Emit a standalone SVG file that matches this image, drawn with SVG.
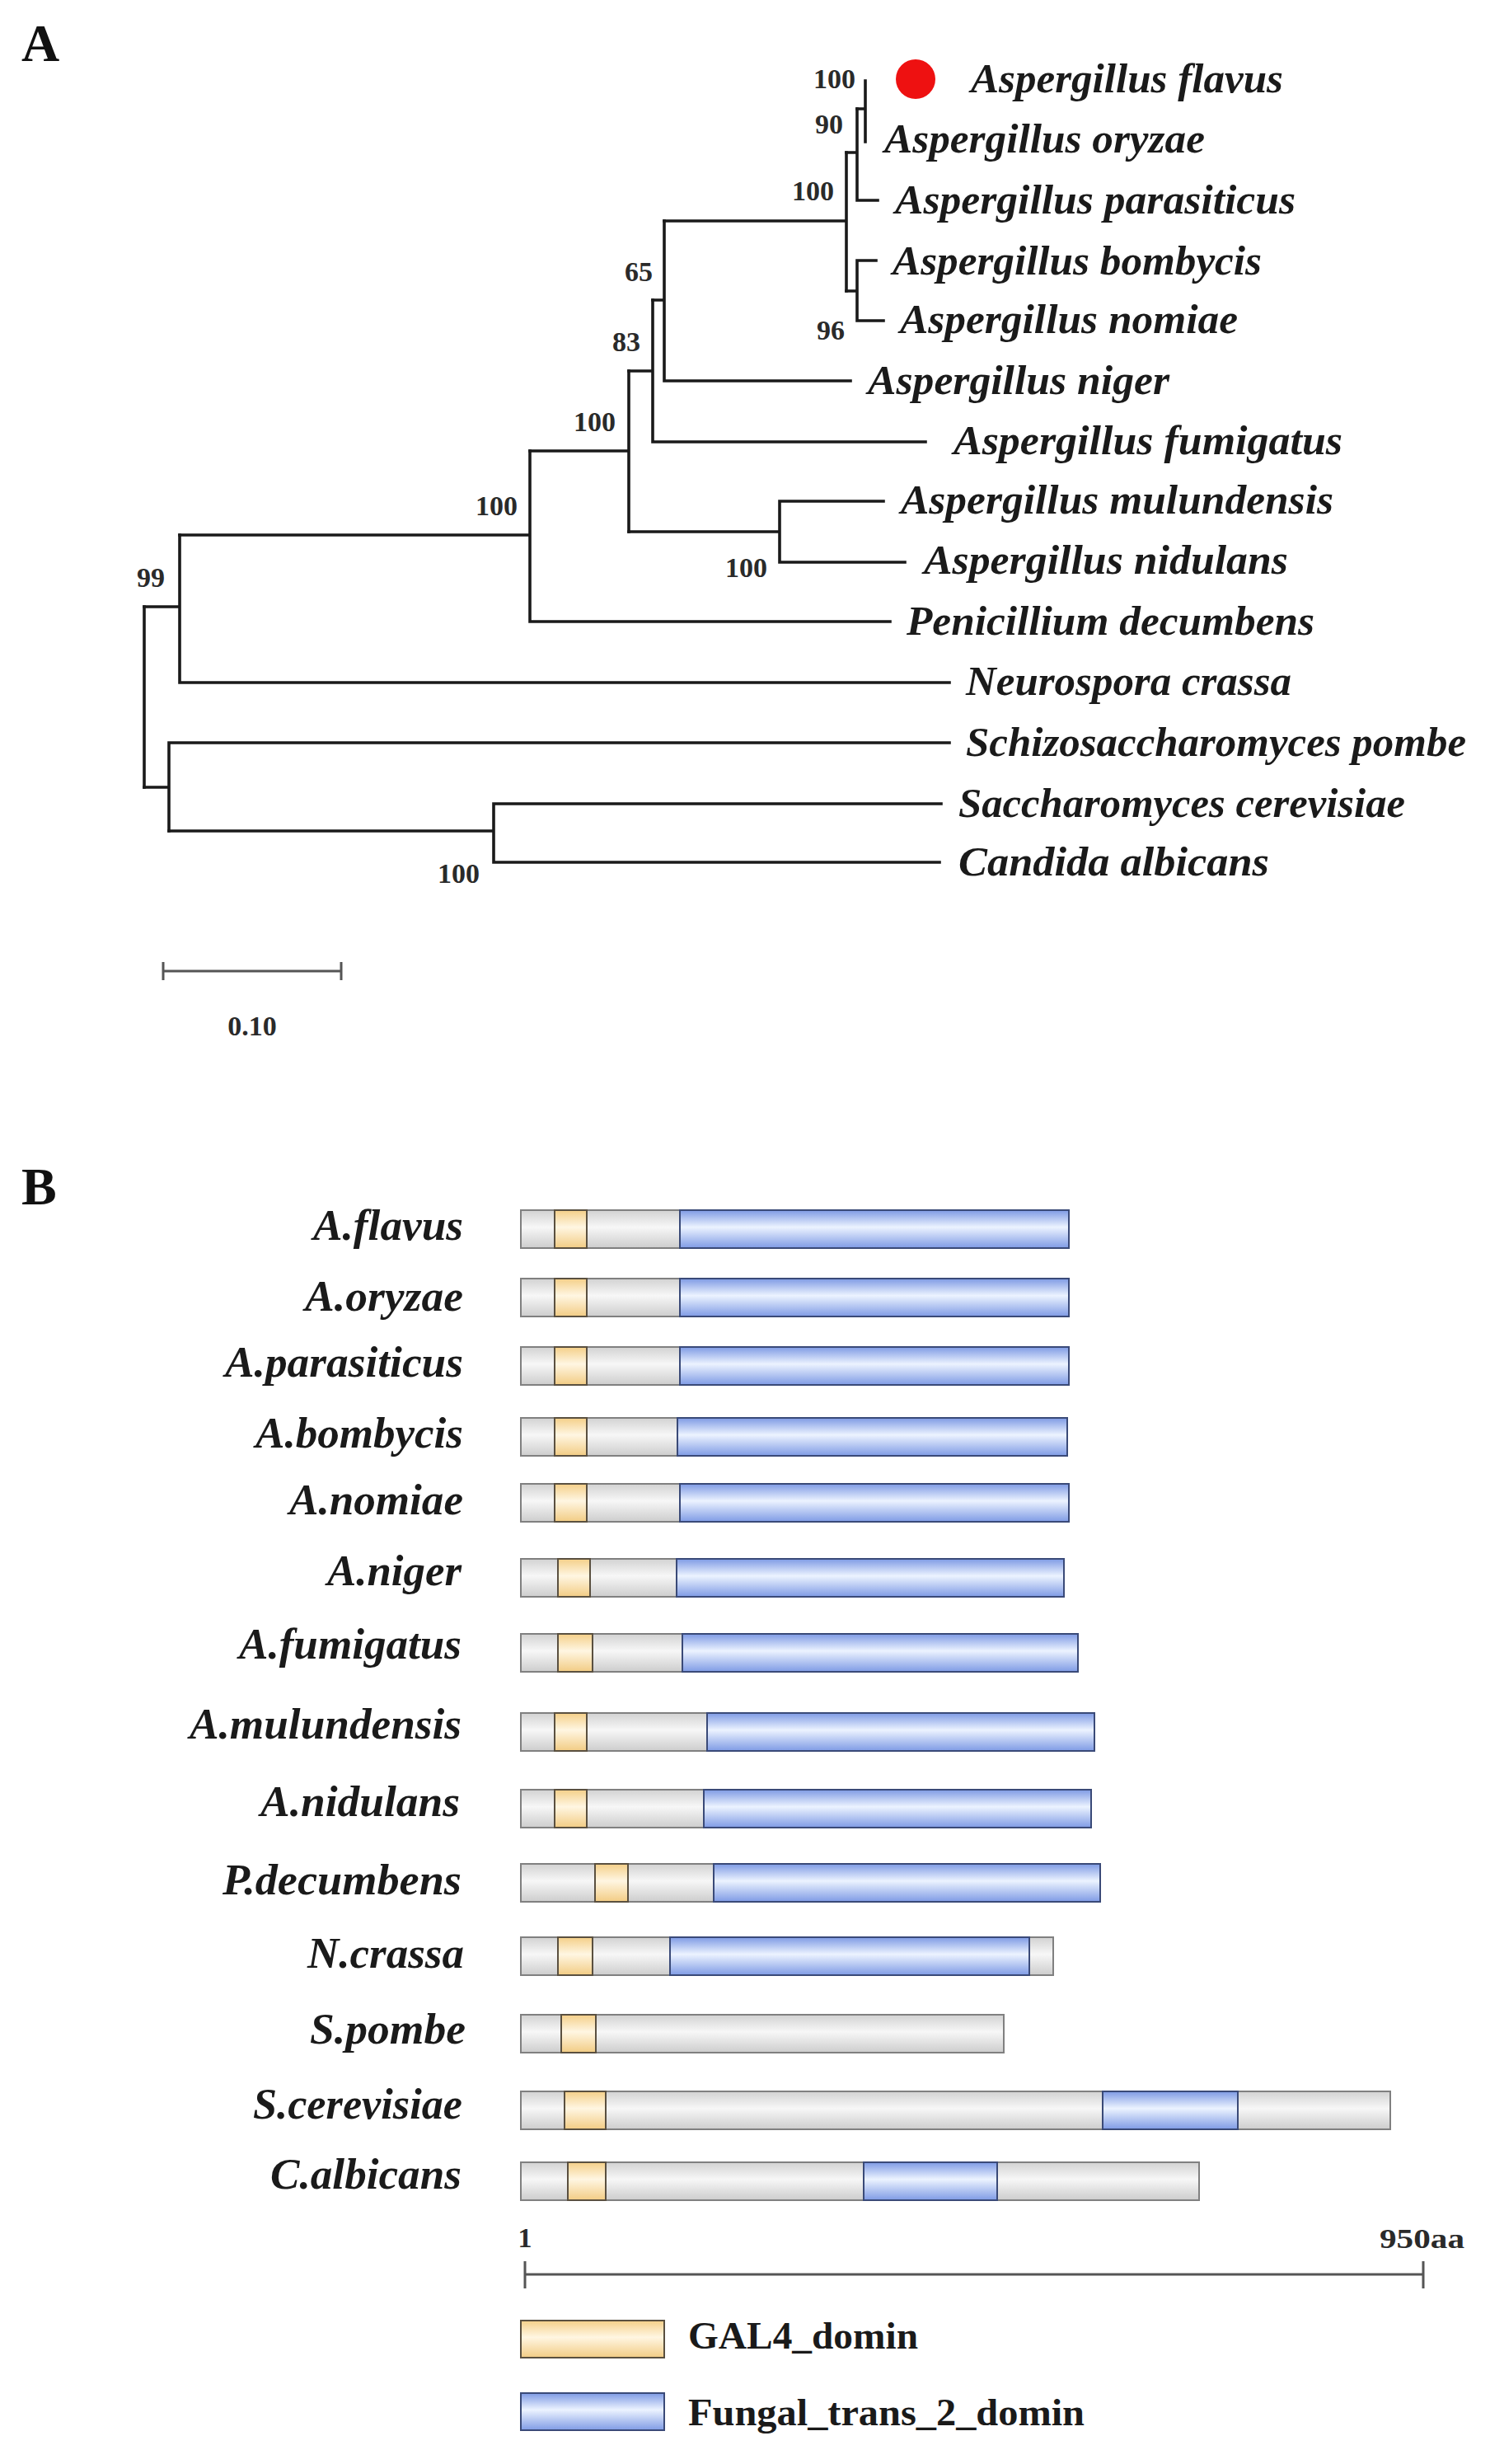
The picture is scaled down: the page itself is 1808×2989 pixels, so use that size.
<svg xmlns="http://www.w3.org/2000/svg" width="1808" height="2989" viewBox="0 0 1808 2989">
<style>
.panel{font-family:"Liberation Serif",serif;font-weight:bold;font-size:64px;fill:#111}
.sp{font-family:"Liberation Serif",serif;font-weight:bold;font-style:italic;font-size:50px;fill:#1a1a1a}
.lb{font-family:"Liberation Serif",serif;font-weight:bold;font-style:italic;font-size:52px;fill:#1a1a1a;text-anchor:end}
.bs{font-family:"Liberation Serif",serif;font-weight:bold;font-size:34px;fill:#2a2a2a}
.lg{font-family:"Liberation Serif",serif;font-weight:bold;font-size:46px;fill:#1a1a1a}
.br{fill:none;stroke:#1a1a1a;stroke-width:3.6;stroke-linecap:square}
.sc{fill:none;stroke:#555;stroke-width:3}
.bar{fill:url(#gGray);stroke:#808080;stroke-width:2}
.gal{fill:url(#gGal);stroke:#5a5040;stroke-width:2}
.fun{fill:url(#gBlue);stroke:#3a4a78;stroke-width:2}
</style>
<defs>
<linearGradient id="gGray" x1="0" y1="0" x2="0" y2="1">
<stop offset="0" stop-color="#d2d2d2"/><stop offset="0.45" stop-color="#f7f7f7"/><stop offset="1" stop-color="#cdcdcd"/>
</linearGradient>
<linearGradient id="gGal" x1="0" y1="0" x2="0" y2="1">
<stop offset="0" stop-color="#f4cf88"/><stop offset="0.45" stop-color="#fff6e2"/><stop offset="1" stop-color="#f2cc84"/>
</linearGradient>
<linearGradient id="gBlue" x1="0" y1="0" x2="0" y2="1">
<stop offset="0" stop-color="#7e9ae4"/><stop offset="0.45" stop-color="#ecf3ff"/><stop offset="1" stop-color="#7f9be5"/>
</linearGradient>
</defs>
<rect width="1808" height="2989" fill="#ffffff"/>

<!-- Panel A -->
<text class="panel" x="26" y="74">A</text>

<g id="connectors">
<path class="br" d="M175,736 V955"/>
<path class="br" d="M175,736 H218 V649 M218,736 V828 H1152"/>
<path class="br" d="M218,649 H643 V547 M643,649 V754 H1080"/>
<path class="br" d="M643,547 H763 V450 M763,547 V645"/>
<path class="br" d="M763,450 H792 V364 M792,450 V536 H1123"/>
<path class="br" d="M792,364 H806 V268 M806,364 V462 H1032"/>
<path class="br" d="M806,268 H1027 V185 M1027,268 V353"/>
<path class="br" d="M1027,185 H1040 V132 M1040,185 V243 H1065"/>
<path class="br" d="M1040,132 H1050 V98 M1050,132 V172"/>
<path class="br" d="M1027,353 H1040 V316 H1063 M1040,353 V389 H1072"/>
<path class="br" d="M763,645 H946 V608 H1072 M946,645 V682 H1098"/>
<path class="br" d="M175,955 H205 V901 H1152 M205,955 V1008"/>
<path class="br" d="M205,1008 H599 V975 H1142 M599,1008 V1046 H1140"/>
</g>

<g id="bootstrap">
<text class="bs" x="987" y="107" font-size="31">100</text>
<text class="bs" x="989" y="162">90</text>
<text class="bs" x="961" y="243">100</text>
<text class="bs" x="991" y="412">96</text>
<text class="bs" x="758" y="341">65</text>
<text class="bs" x="743" y="426">83</text>
<text class="bs" x="696" y="523">100</text>
<text class="bs" x="577" y="625">100</text>
<text class="bs" x="880" y="700">100</text>
<text class="bs" x="166" y="712">99</text>
<text class="bs" x="531" y="1071">100</text>
</g>

<g id="taxa">
<g id="t-flavus"><circle cx="1111" cy="96" r="24" fill="#ee1111"/><text class="sp" x="1178" y="112" textLength="379" lengthAdjust="spacingAndGlyphs">Aspergillus flavus</text></g>
<g id="t-oryzae"><text class="sp" x="1073" y="185" textLength="389" lengthAdjust="spacingAndGlyphs">Aspergillus oryzae</text></g>
<g id="t-parasiticus"><text class="sp" x="1086" y="259" textLength="486" lengthAdjust="spacingAndGlyphs">Aspergillus parasiticus</text></g>
<g id="t-bombycis"><text class="sp" x="1083" y="333" textLength="448" lengthAdjust="spacingAndGlyphs">Aspergillus bombycis</text></g>
<g id="t-nomiae"><text class="sp" x="1092" y="404" textLength="410" lengthAdjust="spacingAndGlyphs">Aspergillus nomiae</text></g>
<g id="t-niger"><text class="sp" x="1053" y="478" textLength="366" lengthAdjust="spacingAndGlyphs">Aspergillus niger</text></g>
<g id="t-fumigatus"><text class="sp" x="1157" y="551" textLength="472" lengthAdjust="spacingAndGlyphs">Aspergillus fumigatus</text></g>
<g id="t-mulundensis"><text class="sp" x="1093" y="623" textLength="525" lengthAdjust="spacingAndGlyphs">Aspergillus mulundensis</text></g>
<g id="t-nidulans"><text class="sp" x="1121" y="696" textLength="442" lengthAdjust="spacingAndGlyphs">Aspergillus nidulans</text></g>
<g id="t-penicillium"><text class="sp" x="1100" y="770" textLength="495" lengthAdjust="spacingAndGlyphs">Penicillium decumbens</text></g>
<g id="t-neurospora"><text class="sp" x="1172" y="843" textLength="395" lengthAdjust="spacingAndGlyphs">Neurospora crassa</text></g>
<g id="t-schizo"><text class="sp" x="1172" y="917" textLength="607" lengthAdjust="spacingAndGlyphs">Schizosaccharomyces pombe</text></g>
<g id="t-sacch"><text class="sp" x="1163" y="991" textLength="542" lengthAdjust="spacingAndGlyphs">Saccharomyces cerevisiae</text></g>
<g id="t-candida"><text class="sp" x="1163" y="1062" textLength="377" lengthAdjust="spacingAndGlyphs">Candida albicans</text></g>
</g>

<g id="scalebar-a">
<path class="sc" d="M198,1178 H414 M198,1167 V1189 M414,1167 V1189"/>
<text class="bs" x="306" y="1256" text-anchor="middle">0.10</text>
</g>

<!-- Panel B -->
<text class="panel" x="26" y="1461">B</text>

<g id="proteins">
<g id="p-flavus"><text class="lb" x="562" y="1504" textLength="182" lengthAdjust="spacingAndGlyphs">A.flavus</text>
<rect class="bar" x="632" y="1468" width="665" height="46"/><rect class="gal" x="673" y="1468" width="39" height="46"/><rect class="fun" x="825" y="1468" width="472" height="46"/></g>
<g id="p-oryzae"><text class="lb" x="562" y="1590" textLength="192" lengthAdjust="spacingAndGlyphs">A.oryzae</text>
<rect class="bar" x="632" y="1551" width="665" height="46"/><rect class="gal" x="673" y="1551" width="39" height="46"/><rect class="fun" x="825" y="1551" width="472" height="46"/></g>
<g id="p-parasiticus"><text class="lb" x="562" y="1670" textLength="289" lengthAdjust="spacingAndGlyphs">A.parasiticus</text>
<rect class="bar" x="632" y="1634" width="665" height="46"/><rect class="gal" x="673" y="1634" width="39" height="46"/><rect class="fun" x="825" y="1634" width="472" height="46"/></g>
<g id="p-bombycis"><text class="lb" x="562" y="1756" textLength="252" lengthAdjust="spacingAndGlyphs">A.bombycis</text>
<rect class="bar" x="632" y="1720" width="663" height="46"/><rect class="gal" x="673" y="1720" width="39" height="46"/><rect class="fun" x="822" y="1720" width="473" height="46"/></g>
<g id="p-nomiae"><text class="lb" x="562" y="1837" textLength="211" lengthAdjust="spacingAndGlyphs">A.nomiae</text>
<rect class="bar" x="632" y="1800" width="665" height="46"/><rect class="gal" x="673" y="1800" width="39" height="46"/><rect class="fun" x="825" y="1800" width="472" height="46"/></g>
<g id="p-niger"><text class="lb" x="560" y="1923" textLength="163" lengthAdjust="spacingAndGlyphs">A.niger</text>
<rect class="bar" x="632" y="1891" width="659" height="46"/><rect class="gal" x="677" y="1891" width="39" height="46"/><rect class="fun" x="821" y="1891" width="470" height="46"/></g>
<g id="p-fumigatus"><text class="lb" x="560" y="2012" textLength="270" lengthAdjust="spacingAndGlyphs">A.fumigatus</text>
<rect class="bar" x="632" y="1982" width="676" height="46"/><rect class="gal" x="677" y="1982" width="42" height="46"/><rect class="fun" x="828" y="1982" width="480" height="46"/></g>
<g id="p-mulundensis"><text class="lb" x="560" y="2109" textLength="330" lengthAdjust="spacingAndGlyphs">A.mulundensis</text>
<rect class="bar" x="632" y="2078" width="696" height="46"/><rect class="gal" x="673" y="2078" width="39" height="46"/><rect class="fun" x="858" y="2078" width="470" height="46"/></g>
<g id="p-nidulans"><text class="lb" x="558" y="2203" textLength="242" lengthAdjust="spacingAndGlyphs">A.nidulans</text>
<rect class="bar" x="632" y="2171" width="692" height="46"/><rect class="gal" x="673" y="2171" width="39" height="46"/><rect class="fun" x="854" y="2171" width="470" height="46"/></g>
<g id="p-decumbens"><text class="lb" x="560" y="2298" textLength="290" lengthAdjust="spacingAndGlyphs">P.decumbens</text>
<rect class="bar" x="632" y="2261" width="703" height="46"/><rect class="gal" x="722" y="2261" width="40" height="46"/><rect class="fun" x="866" y="2261" width="469" height="46"/></g>
<g id="p-crassa"><text class="lb" x="563" y="2387" textLength="190" lengthAdjust="spacingAndGlyphs">N.crassa</text>
<rect class="bar" x="632" y="2350" width="646" height="46"/><rect class="gal" x="677" y="2350" width="42" height="46"/><rect class="fun" x="813" y="2350" width="436" height="46"/></g>
<g id="p-pombe"><text class="lb" x="565" y="2479" textLength="189" lengthAdjust="spacingAndGlyphs">S.pombe</text>
<rect class="bar" x="632" y="2444" width="586" height="46"/><rect class="gal" x="681" y="2444" width="42" height="46"/></g>
<g id="p-cerevisiae"><text class="lb" x="561" y="2570" textLength="254" lengthAdjust="spacingAndGlyphs">S.cerevisiae</text>
<rect class="bar" x="632" y="2537" width="1055" height="46"/><rect class="gal" x="685" y="2537" width="50" height="46"/><rect class="fun" x="1338" y="2537" width="164" height="46"/></g>
<g id="p-albicans"><text class="lb" x="560" y="2655" textLength="232" lengthAdjust="spacingAndGlyphs">C.albicans</text>
<rect class="bar" x="632" y="2623" width="823" height="46"/><rect class="gal" x="689" y="2623" width="46" height="46"/><rect class="fun" x="1048" y="2623" width="162" height="46"/></g>
</g>

<g id="scalebar-b">
<path class="sc" d="M637,2759 H1727 M637,2743 V2776 M1727,2743 V2776" stroke-width="2"/>
<text class="bs" x="637" y="2726" text-anchor="middle">1</text>
<text class="bs" x="1674" y="2727" textLength="103" lengthAdjust="spacingAndGlyphs">950aa</text>
</g>

<g id="legend">
<g id="leg-gal4"><rect class="gal" x="632" y="2815" width="174" height="45"/><text class="lg" x="835" y="2849" textLength="279" lengthAdjust="spacingAndGlyphs">GAL4_domin</text></g>
<g id="leg-fungal"><rect class="fun" x="632" y="2903" width="174" height="45"/><text class="lg" x="835" y="2942" textLength="481" lengthAdjust="spacingAndGlyphs">Fungal_trans_2_domin</text></g>
</g>
</svg>
